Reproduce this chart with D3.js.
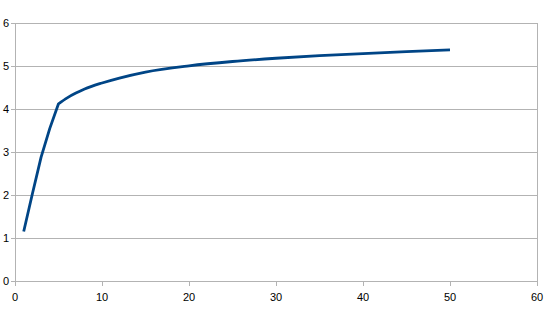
<!DOCTYPE html>
<html><head><meta charset="utf-8">
<script src="https://cdn.jsdelivr.net/npm/d3@7"></script>
<style>body{margin:0;background:#fff}svg{display:block}</style>
</head><body>
<svg id="c" width="550" height="318"></svg>
<script>
const xValues = [1, 2, 3, 4, 5, 6, 7, 8, 10, 12, 15, 20, 25, 30, 35, 40, 45, 50];
const yValues = [1.15, 2.03, 2.88, 3.55, 4.12, 4.26, 4.37, 4.465, 4.605, 4.72, 4.86, 5.005, 5.105, 5.18, 5.24, 5.29, 5.335, 5.375];
const xTicks = [0, 10, 20, 30, 40, 50, 60];
const yTicks = [0, 1, 2, 3, 4, 5, 6];

const svg = d3.select("#c");
const m = {l: 15, r: 13, t: 23, b: 37};
const W = 550, H = 318;
const x = d3.scaleLinear().domain([0, 60]).range([m.l, W - m.r]);
const y = d3.scaleLinear().domain([0, 6]).range([H - m.b, m.t]);

const grid = "#b3b3b3";
svg.append("g").selectAll("line").data(yTicks).join("line")
  .attr("x1", x(0) - 4).attr("x2", x(60))
  .attr("y1", d => Math.round(y(d)) + 0.5).attr("y2", d => Math.round(y(d)) + 0.5)
  .attr("stroke", grid).attr("stroke-width", 1);
svg.append("line").attr("x1", Math.round(x(60)) + 0.5).attr("x2", Math.round(x(60)) + 0.5)
  .attr("y1", y(6)).attr("y2", y(0)).attr("stroke", grid);
svg.append("line").attr("x1", Math.round(x(0)) + 0.5).attr("x2", Math.round(x(0)) + 0.5)
  .attr("y1", y(6)).attr("y2", y(0) + 5).attr("stroke", grid);
svg.append("g").selectAll("line").data(xTicks).join("line")
  .attr("x1", d => Math.round(x(d)) + 0.5).attr("x2", d => Math.round(x(d)) + 0.5)
  .attr("y1", y(0)).attr("y2", y(0) + 5).attr("stroke", grid);

svg.append("g").selectAll("text").data(yTicks).join("text")
  .attr("x", 9).attr("y", d => y(d) + 4)
  .attr("text-anchor", "end")
  .attr("font-family", "Liberation Sans, Arial, sans-serif").attr("font-size", 11)
  .attr("fill", "#000").text(d => d);
svg.append("g").selectAll("text").data(xTicks).join("text")
  .attr("x", d => x(d)).attr("y", y(0) + 20)
  .attr("text-anchor", "middle")
  .attr("font-family", "Liberation Sans, Arial, sans-serif").attr("font-size", 11)
  .attr("fill", "#000").text(d => d);

const pts = xValues.map((v, i) => [v, yValues[i]]);
const first = pts.filter(p => p[0] <= 5);
const rest = pts.filter(p => p[0] >= 5);
const lineLin = d3.line().x(d => x(d[0])).y(d => y(d[1])).curve(d3.curveLinear);
const lineSm = d3.line().x(d => x(d[0])).y(d => y(d[1])).curve(d3.curveMonotoneX);
const smooth = lineSm(rest);
svg.append("path").attr("d", lineLin(first) + "L" + smooth.slice(1))
  .attr("fill", "none").attr("stroke", "#004586").attr("stroke-width", 2.8)
  .attr("stroke-linejoin", "round").attr("stroke-linecap", "butt");
</script>
</body></html>
